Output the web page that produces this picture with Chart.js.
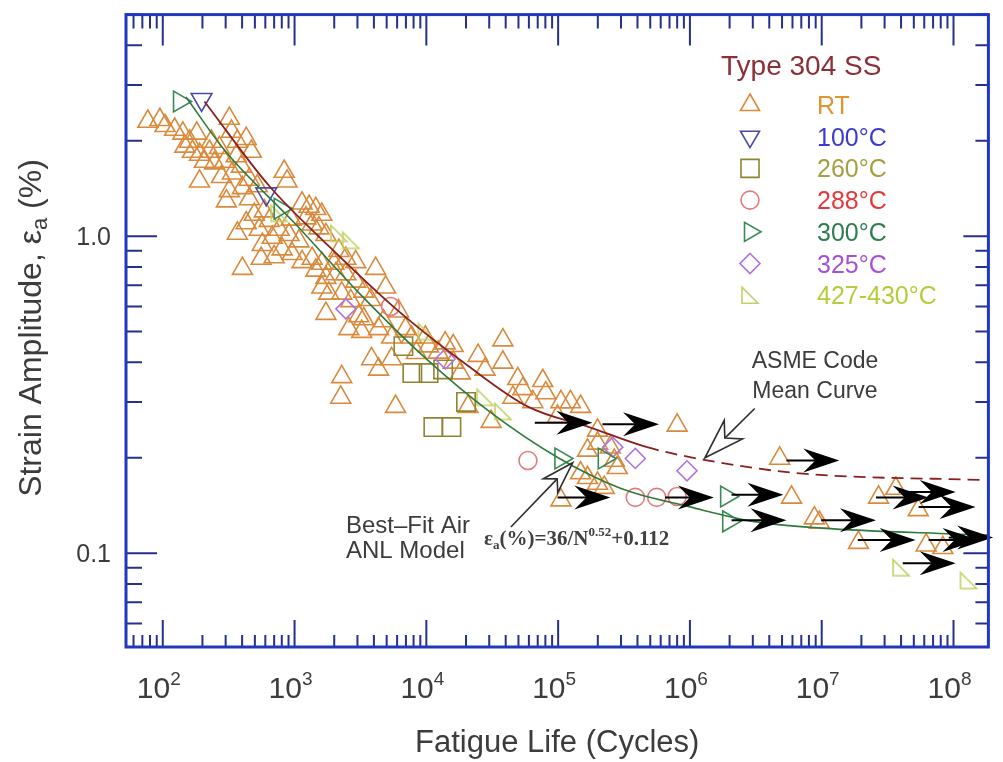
<!DOCTYPE html>
<html lang="en">
<head>
  <meta charset="UTF-8">
  <title>Type 304 SS - Fatigue Life</title>
  <script src="https://cdn.jsdelivr.net/npm/chart.js"></script>
  <style>
    body { margin: 0; background: #fff; }
    .box { width: 1003px; height: 762px; }
  </style>
</head>
<body>
  <div class="box"><canvas id="graficoFadiga"></canvas></div>

  <script>
    // ---- data (N = cycles, eps = strain amplitude %) ----
    const rtN = [77, 95, 104, 123, 142, 160, 168, 190, 207, 226, 247, 269, 294, 320, 332, 368, 395, 430, 338, 454,
      320, 304, 402, 454, 190, 495, 430, 540, 368, 643, 764, 908, 569, 805, 834, 878, 402, 558, 700,
      147, 181, 234, 279, 361, 470, 521, 589, 942, 1080,
      1140, 1290, 1450, 1610, 1220, 1360, 1530, 1730, 677, 957, 1140, 1360, 1610, 2170, 2450, 2910, 4120, 1450, 1730, 2060,
      2450, 2910, 4910, 1610, 1820, 2280, 1730, 2580, 3230, 4340, 5450, 6150, 6950, 7710, 3840, 4340, 5450, 9820, 13900,
      2280, 2240, 5840, 3350, 3780, 3070, 1990, 2670, 3350, 4730, 8410,
      10400, 12300, 16000, 18100, 24700, 27900, 38100, 38100, 20700, 31000, 45400, 54000, 64300, 76400, 80500, 1.05e5,
      1.24e5, 1.48e5, 9.9e4, 1.99e5, 1.99e5, 1.67e5, 2.49e5, 2.67e5, 2.81e5, 1.48e5, 1.67e5, 1.99e5, 2.24e5, 1.05e5,
      16000, 49400,
      8.0e5, 4.8e6, 5.9e6, 8.8e6, 9.6e6, 1.9e7, 2.7e7, 3.65e7, 5.4e7, 6.2e7, 8.3e7];
    const rtEps = [2.30, 2.33, 2.23, 2.17, 2.11, 1.99, 1.85, 1.81, 1.72, 1.85, 1.70, 1.90, 1.72, 2.35, 2.14, 1.99, 1.66, 2.03, 1.58, 1.51,
      1.39, 1.29, 1.42, 1.31, 1.49, 1.17, 1.10, 1.05, 1.02, 1.12, 1.05, 1.01, 0.94, 0.91, 1.60, 1.49, 0.79, 0.85, 0.86,
      1.92, 2.11, 1.99, 1.54, 1.79, 1.85, 1.44, 1.20, 1.13, 0.965,
      1.27, 1.24, 1.22, 1.17, 1.14, 1.09, 1.06, 1.01, 0.99, 0.88, 0.83, 0.85, 0.82, 0.90, 0.85, 0.83, 0.79, 0.78, 0.74, 0.76,
      0.76, 0.72, 0.69, 0.69, 0.66, 0.66, 0.57, 0.51, 0.50, 0.51, 0.48, 0.58, 0.51, 0.48, 0.41, 0.38, 0.41, 0.48, 0.46,
      0.36, 0.31, 0.29, 0.67, 0.63, 0.56, 0.82, 0.625, 0.548, 0.54, 0.429,
      0.45, 0.43, 0.40, 0.37, 0.42, 0.38, 0.47, 0.40, 0.29, 0.26, 0.31, 0.33, 0.30, 0.35, 0.32, 0.30,
      0.30, 0.29, 0.27, 0.244, 0.222, 0.211, 0.216, 0.196, 0.186, 0.179, 0.173, 0.166, 0.161, 0.147,
      0.451, 0.355,
      0.253, 0.199, 0.150, 0.129, 0.125, 0.108, 0.150, 0.160, 0.137, 0.106, 0.104];

    const t100N = [197, 610];
    const t100Eps = [2.70, 1.36];
    const t260N = [6700, 7830, 10400, 13400, 11300, 15500, 20000];
    const t260Eps = [0.45, 0.37, 0.37, 0.38, 0.25, 0.25, 0.30];
    const t288N = [5350, 5.9e4, 3.85e5, 5.6e5, 8.0e5];
    const t288Eps = [0.60, 0.196, 0.150, 0.150, 0.151];
    const t300N = [134, 778, 1.05e5, 2.24e5, 1.9e6, 1.97e6];
    const t300Eps = [2.66, 1.22, 0.199, 0.199, 0.151, 0.126];
    const t325N = [2450, 13900, 2.6e5, 3.85e5, 9.5e5];
    const t325Eps = [0.59, 0.41, 0.216, 0.199, 0.182];
    const t427N = [764, 2170, 2670, 10000, 27900, 38100, 4.0e7, 1.3e8];
    const t427Eps = [1.18, 1.02, 0.97, 0.50, 0.31, 0.28, 0.090, 0.082];

    // run-out tests (arrows): start, end, strain
    const runStartN = [6.65e4, 2.17e5, 9.9e4, 6.47e5, 2.07e6, 2.07e6, 5.4e6, 9.9e6, 1.88e7, 2.58e7, 3.85e7, 5.44e7, 4.12e7, 6.47e7, 9.2e7];
    const runEndN = [1.82e5, 5.83e5, 2.49e5, 1.52e6, 5.12e6, 5.4e6, 1.36e7, 2.58e7, 5.16e7, 6.47e7, 1.04e8, 1.47e8, 1.04e8, 1.55e8, 2.0e8];
    const runEps = [0.258, 0.255, 0.150, 0.150, 0.153, 0.127, 0.196, 0.127, 0.110, 0.150, 0.156, 0.140, 0.093, 0.110, 0.112];

    // curves
    const anlN = [150, 300, 1000, 3000, 1e4, 3e4, 1e5, 3e5, 1e6, 3e6, 1e7, 1e8, 1.84e8];
    const anlEps = [2.75, 1.85, 1.10, 0.67, 0.41, 0.28, 0.20, 0.16, 0.14, 0.126, 0.12, 0.115, 0.114];
    const asmeN = [207, 643, 1820, 6150, 20700, 58900, 1.76e5, 4.73e5, 1.13e6, 6.43e6, 1.75e8];
    const asmeEps = [2.66, 1.44, 0.93, 0.58, 0.39, 0.29, 0.249, 0.216, 0.199, 0.179, 0.170];

    // axes / labels
    const xTickExp = [2, 3, 4, 5, 6, 7, 8];
    const yTickVals = [0.1, 1.0];
    const yTickText = ['0.1', '1.0'];
    const legendNames = ['RT', '100°C', '260°C', '288°C', '300°C', '325°C', '427-430°C'];
    const legendText = ['#e0952f', '#3b3bd0', '#a3a043', '#e4393c', '#2f7d50', '#a650d6', '#b6cc3c'];
    const legendMark = ['#d98a3c', '#4b4ba6', '#8f8432', '#e07c7c', '#3b8a55', '#b072de', '#c2d268'];
    const legendKind = ['tri', 'triDown', 'square', 'circle', 'triRight', 'diamond', 'rtri'];

    const FONT = '"Liberation Sans", Arial, sans-serif';
    const TXT = '#3c3c3c';
    const pts = (xs, ys) => xs.map((v, i) => ({ x: v, y: ys[i] }));

    function rightTri(color) {
      const c = document.createElement('canvas');
      c.width = 22; c.height = 22;
      const g = c.getContext('2d');
      g.strokeStyle = color; g.lineWidth = 1.6;
      g.beginPath(); g.moveTo(3, 3); g.lineTo(3, 19); g.lineTo(19, 19); g.closePath(); g.stroke();
      return c;
    }

    function drawSym(ctx, kind, cx, cy, color) {
      ctx.strokeStyle = color; ctx.lineWidth = 1.6;
      ctx.beginPath();
      const tri = (rot) => {
        for (let k = 0; k < 3; k++) {
          const an = rot + k * 2 * Math.PI / 3;
          const px = cx + 11 * Math.sin(an), py = cy - 11 * Math.cos(an);
          k ? ctx.lineTo(px, py) : ctx.moveTo(px, py);
        }
        ctx.closePath();
      };
      if (kind === 'tri') tri(0);
      if (kind === 'triDown') tri(Math.PI);
      if (kind === 'triRight') tri(Math.PI / 2);
      if (kind === 'square') ctx.rect(cx - 9, cy - 9, 18, 18);
      if (kind === 'circle') ctx.arc(cx, cy, 9, 0, 2 * Math.PI);
      if (kind === 'diamond') { ctx.moveTo(cx, cy - 10); ctx.lineTo(cx + 10, cy); ctx.lineTo(cx, cy + 10); ctx.lineTo(cx - 10, cy); ctx.closePath(); }
      if (kind === 'rtri') { ctx.moveTo(cx - 8, cy - 8); ctx.lineTo(cx - 8, cy + 8); ctx.lineTo(cx + 8, cy + 8); ctx.closePath(); }
      ctx.stroke();
    }

    // parts: [text, fontSize, dy, fontString]
    function rich(ctx, parts, x, y, align) {
      let w = 0;
      parts.forEach(p => { ctx.font = p[3]; w += ctx.measureText(p[0]).width; });
      let cx = align === 'center' ? x - w / 2 : x;
      ctx.textAlign = 'left';
      parts.forEach(p => { ctx.font = p[3]; ctx.fillText(p[0], cx, y + p[2]); cx += ctx.measureText(p[0]).width; });
    }

    function runout(ctx, x0, x1, yy) {
      ctx.strokeStyle = '#000'; ctx.lineWidth = 2;
      ctx.beginPath(); ctx.moveTo(x0, yy); ctx.lineTo(x1 - 14, yy); ctx.stroke();
      ctx.fillStyle = '#000';
      ctx.beginPath();
      ctx.moveTo(x1, yy); ctx.lineTo(x1 - 36, yy - 12); ctx.lineTo(x1 - 24, yy); ctx.lineTo(x1 - 36, yy + 12);
      ctx.closePath(); ctx.fill();
    }

    function hollowArrow(ctx, x0, y0, x1, y1, len, half) {
      const an = Math.atan2(y1 - y0, x1 - x0), c = Math.cos(an), s = Math.sin(an);
      const P = (u, v) => [x1 + u * c - v * s, y1 + u * s + v * c];
      const notch = P(-len * 0.7, 0);
      ctx.strokeStyle = '#2e2e2e'; ctx.lineWidth = 1.6;
      ctx.beginPath(); ctx.moveTo(x0, y0); ctx.lineTo(notch[0], notch[1]); ctx.stroke();
      const q = [P(0, 0), P(-len, -half), notch, P(-len, half)];
      ctx.fillStyle = '#fff';
      ctx.beginPath(); ctx.moveTo(q[0][0], q[0][1]);
      q.slice(1).forEach(p => ctx.lineTo(p[0], p[1]));
      ctx.closePath(); ctx.fill(); ctx.stroke();
    }

    const decoPlugin = {
      id: 'deco',
      afterDatasetsDraw(chart) {
        const { ctx, chartArea: a, scales: { x, y } } = chart;
        ctx.save();

        // run-out arrows
        runStartN.forEach((n, i) => runout(ctx, x.getPixelForValue(n), x.getPixelForValue(runEndN[i]), y.getPixelForValue(runEps[i])));

        // frame + inward ticks
        ctx.strokeStyle = '#26318f'; ctx.lineWidth = 2;
        ctx.beginPath();
        for (let d = 1; d <= 8; d++) for (let m = 1; m <= 9; m++) {
          const v = m * Math.pow(10, d);
          if (v < x.min || v > x.max) continue;
          const px = x.getPixelForValue(v);
          ctx.moveTo(px, a.bottom); ctx.lineTo(px, a.bottom - (m === 1 ? 27 : 12));
          ctx.moveTo(px, a.top); ctx.lineTo(px, a.top + (m === 1 ? 31 : 14));
        }
        for (let d = -2; d <= 0; d++) for (let m = 1; m <= 9; m++) {
          const v = m * Math.pow(10, d);
          if (v < y.min || v > y.max) continue;
          const py = y.getPixelForValue(v);
          ctx.moveTo(a.left, py); ctx.lineTo(a.left + (m === 1 ? 31 : 16), py);
          ctx.moveTo(a.right, py); ctx.lineTo(a.right - (m === 1 ? 25 : 13), py);
        }
        ctx.stroke();
        ctx.strokeStyle = '#2137c0'; ctx.lineWidth = 3;
        ctx.strokeRect(a.left, a.top, a.right - a.left, a.bottom - a.top);

        // tick labels
        ctx.fillStyle = TXT; ctx.textBaseline = 'alphabetic';
        xTickExp.forEach(e => {
          const px = x.getPixelForValue(Math.pow(10, e));
          rich(ctx, [['10', 30, 0, '30px ' + FONT], [String(e), 19, -13, '19px ' + FONT]], px - 4, 698, 'center');
        });
        ctx.font = '25px ' + FONT; ctx.textAlign = 'right';
        yTickVals.forEach((v, i) => ctx.fillText(yTickText[i], 111, y.getPixelForValue(v) + 9));

        // axis titles
        ctx.font = '31px ' + FONT; ctx.textAlign = 'center';
        ctx.fillText('Fatigue Life (Cycles)', (a.left + a.right) / 2, 752);
        ctx.save();
        ctx.translate(41, 328); ctx.rotate(-Math.PI / 2);
        rich(ctx, [['Strain Amplitude, ε', 32, 0, '32px ' + FONT], ['a', 22, 6, '22px ' + FONT], [' (%)', 32, 0, '32px ' + FONT]], 0, 0, 'center');
        ctx.restore();

        // legend
        ctx.fillStyle = '#8c2f37'; ctx.font = '28px ' + FONT; ctx.textAlign = 'left';
        ctx.fillText('Type 304 SS', 721, 75);
        ctx.font = '25px ' + FONT;
        legendNames.forEach((nm, i) => {
          const cy = 105 + i * 31.7;
          drawSym(ctx, legendKind[i], 750, cy, legendMark[i]);
          ctx.fillStyle = legendText[i];
          ctx.fillText(nm, 817, cy + 9);
        });

        // annotations
        ctx.fillStyle = TXT; ctx.font = '23px ' + FONT; ctx.textAlign = 'center';
        ctx.fillText('ASME Code', 815, 368);
        ctx.fillText('Mean Curve', 815, 398);
        ctx.textAlign = 'left'; ctx.font = '24px ' + FONT;
        ctx.fillText('Best–Fit Air', 346, 533);
        ctx.fillText('ANL Model', 346, 558);
        hollowArrow(ctx, x.getPixelForValue(3.1e6), y.getPixelForValue(0.286), x.getPixelForValue(1.3e6), y.getPixelForValue(0.200), 40, 13);
        hollowArrow(ctx, x.getPixelForValue(4.38e4), y.getPixelForValue(0.121), x.getPixelForValue(1.29e5), y.getPixelForValue(0.193), 32, 10);

        const SF = '"Liberation Serif", "Times New Roman", serif';
        ctx.fillStyle = '#404040';
        rich(ctx, [['ε', 21, 0, 'bold 21px ' + SF], ['a', 13, 4, 'bold 13px ' + SF], ['(%)=36/N', 21, 0, 'bold 21px ' + SF],
          ['0.52', 13, -9, 'bold 13px ' + SF], ['+0.112', 21, 0, 'bold 21px ' + SF]], 484, 545, 'left');

        ctx.restore();
      }
    };

    const scatterSet = (label, xs, ys, color, style, radius, rot) => ({
      label, data: pts(xs, ys), showLine: false,
      pointStyle: style, pointRadius: radius, pointRotation: rot || 0,
      pointBorderColor: color, pointBackgroundColor: 'rgba(0,0,0,0)', pointBorderWidth: 1.6,
      borderColor: color
    });

    new Chart(document.getElementById('graficoFadiga'), {
      type: 'scatter',
      data: {
        datasets: [
          {
            label: 'Best-Fit Air ANL Model', data: pts(anlN, anlEps), showLine: true, pointRadius: 0,
            borderColor: '#2f7a3c', borderWidth: 1.6, cubicInterpolationMode: 'monotone'
          },
          {
            label: 'ASME Code Mean Curve', data: pts(asmeN, asmeEps), showLine: true, pointRadius: 0,
            borderColor: '#8b2020', borderWidth: 1.8, cubicInterpolationMode: 'monotone',
            segment: { borderDash: c => c.p0.parsed.x >= 4e5 ? [12, 7] : undefined }
          },
          scatterSet('100°C', t100N, t100Eps, legendMark[1], 'triangle', 12, 180),
          scatterSet('300°C', t300N, t300Eps, legendMark[4], 'triangle', 12, 90),
          scatterSet('325°C', t325N, t325Eps, legendMark[5], 'rectRot', 10),
          scatterSet('288°C', t288N, t288Eps, legendMark[3], 'circle', 9),
          scatterSet('260°C', t260N, t260Eps, legendMark[2], 'rect', 13),
          scatterSet('427-430°C', t427N, t427Eps, legendMark[6], rightTri(legendMark[6]), 11),
          scatterSet('RT', rtN, rtEps, legendMark[0], 'triangle', 11.5)
        ]
      },
      options: {
        responsive: true,
        maintainAspectRatio: false,
        animation: false,
        events: [],
        layout: { padding: { left: 126, right: 10, top: 13, bottom: 115 } },
        plugins: { legend: { display: false }, tooltip: { enabled: false } },
        scales: {
          x: { type: 'logarithmic', min: 52.6, max: 1.84e8, display: false },
          y: { type: 'logarithmic', min: 0.0506, max: 5, display: false }
        }
      },
      plugins: [decoPlugin]
    });
  </script>
</body>
</html>
